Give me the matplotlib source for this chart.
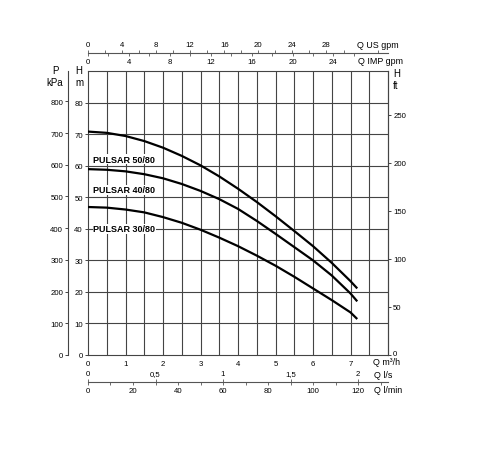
import numpy as np
import matplotlib
matplotlib.use("Agg")
import matplotlib.pyplot as plt
from matplotlib import font_manager as fm

# ---------------- data ----------------
q_m3h = [0, 0.5, 1, 1.5, 2, 2.5, 3, 3.5, 4, 4.5, 5, 5.5, 6, 6.5, 7, 7.18]
h_50_80 = [70.8, 70.4, 69.4, 67.8, 65.7, 63.1, 60.1, 56.6, 52.7, 48.5, 44.0, 39.3, 34.5, 29.2, 23.4, 21.1]
h_40_80 = [58.9, 58.7, 58.2, 57.3, 56.0, 54.2, 52.0, 49.4, 46.3, 42.5, 38.4, 34.2, 30.0, 25.2, 19.5, 17.0]
h_30_80 = [46.9, 46.7, 46.1, 45.2, 43.7, 41.9, 39.7, 37.2, 34.5, 31.5, 28.3, 24.8, 21.1, 17.4, 13.5, 11.4]
curve_names = ["PULSAR 50/80", "PULSAR 40/80", "PULSAR 30/80"]
label_h = [62.0, 52.3, 40.0]

x_ticks_m3h = [0, 1, 2, 3, 4, 5, 6, 7]
h_ticks_m = [0, 10, 20, 30, 40, 50, 60, 70, 80]
p_ticks_kpa = [0, 100, 200, 300, 400, 500, 600, 700, 800]
h_ticks_ft = [0, 50, 100, 150, 200, 250]
us_gpm_ticks = [0, 4, 8, 12, 16, 20, 24, 28]
imp_gpm_ticks = [0, 4, 8, 12, 16, 20, 24]
ls_ticks = [0, 0.5, 1, 1.5, 2]
ls_labels = ["0", "0,5", "1", "1,5", "2"]
lmin_ticks = [0, 20, 40, 60, 80, 100, 120]

# unit conversions
US_GPM = 0.2271247   # m3/h per US gpm
IMP_GPM = 0.272765   # m3/h per IMP gpm
KPA_PER_M = 9.95
FT = 0.3048

# ---------------- fonts ----------------
names = {f.name for f in fm.fontManager.ttflist}
base = "Liberation Sans" if "Liberation Sans" in names else "DejaVu Sans"
narrow = "Liberation Sans Narrow" if "Liberation Sans Narrow" in names else base
plt.rcParams["font.family"] = [base, "DejaVu Sans"]

W, H = 478, 460
fig = plt.figure(figsize=(W / 100, H / 100), dpi=100)

def fx(px):
    return px / W

def fy(py):
    return 1 - py / H

L, R, T, B = 88, 388, 72, 356
ax = fig.add_axes([fx(L), fy(B), fx(R - L), (B - T) / H])
xmax, hmax = 8.0, 90.0
ax.set_xlim(0, xmax)
ax.set_ylim(0, hmax)

gcol = "#444444"
glw = 0.8
tick_fs = 5.6
for v in np.arange(0.5, xmax, 0.5):
    ax.axvline(v, color=gcol, lw=glw, zorder=1)
for v in h_ticks_m[1:]:
    ax.axhline(v, color=gcol, lw=glw, zorder=1)
for s in ax.spines.values():
    s.set_color(gcol)
    s.set_linewidth(glw)

ax.set_xticks(x_ticks_m3h)
ax.set_xticklabels([str(v) for v in x_ticks_m3h])
ax.set_yticks(h_ticks_m)
ax.set_yticklabels([str(v) for v in h_ticks_m])
ax.tick_params(axis="x", length=0, pad=3.6, labelsize=tick_fs)
ax.tick_params(axis="y", length=2.5, width=0.7, pad=1.2, labelsize=tick_fs, color=gcol)

lab_size = 6.5 if narrow == base else 7
for hv, name, lh in zip([h_50_80, h_40_80, h_30_80], curve_names, label_h):
    ax.plot(q_m3h, hv, color="black", lw=1.6, zorder=3, solid_capstyle="butt",
            solid_joinstyle="round")
    ax.text(0.14, lh, name, fontsize=lab_size, fontweight="bold", family=[narrow, base],
            va="center", ha="left", zorder=4,
            bbox=dict(facecolor="white", edgecolor="none", pad=0.3))

# P kPa axis (left, offset)
axp = ax.twinx()
axp.set_ylim(0, hmax * KPA_PER_M)
axp.yaxis.set_ticks_position("left")
axp.yaxis.set_label_position("left")
axp.spines["left"].set_position(("axes", -(L - 67.7) / (R - L)))
axp.spines["left"].set_visible(True)
for k in ("right", "top", "bottom"):
    axp.spines[k].set_visible(False)
axp.spines["left"].set_color(gcol)
axp.spines["left"].set_linewidth(glw)
axp.set_yticks(p_ticks_kpa)
axp.set_yticklabels([str(v) for v in p_ticks_kpa])
axp.tick_params(axis="y", length=2.5, width=0.7, pad=0.8, labelsize=tick_fs, color=gcol)

# H ft axis (right)
axf = ax.twinx()
axf.set_ylim(0, hmax / FT)
for k in ("left", "top", "bottom"):
    axf.spines[k].set_visible(False)
axf.spines["right"].set_color(gcol)
axf.spines["right"].set_linewidth(glw)
axf.set_yticks(h_ticks_ft)
axf.set_yticklabels([str(v) for v in h_ticks_ft])
axf.tick_params(axis="y", length=2.5, width=0.7, pad=1.2, labelsize=tick_fs, color=gcol)
axf.get_yticklabels()[0].set_va("baseline")

# top gpm scale
topy = 54
scol = "#555555"
axu = fig.add_axes([fx(L), fy(topy), fx(R - L), 1e-6])
axu.set_xlim(0, xmax / US_GPM)
axu.set_yticks([])
for k in ("left", "right", "bottom"):
    axu.spines[k].set_visible(False)
axu.spines["top"].set_color(scol)
axu.spines["top"].set_linewidth(0.8)
axu.xaxis.set_ticks_position("top")
axu.set_xticks(us_gpm_ticks)
axu.set_xticklabels([str(v) for v in us_gpm_ticks])
axu.set_xticks(np.arange(2, 35, 4), minor=True)
axu.tick_params(axis="x", which="both", direction="out", length=2, width=0.6,
                pad=1.6, labelsize=tick_fs, color=scol)
sec = axu.secondary_xaxis("top", functions=(lambda x: x * US_GPM / IMP_GPM,
                                             lambda x: x * IMP_GPM / US_GPM))
sec.xaxis.set_ticks_position("bottom")
sec.spines["top"].set_visible(False)
sec.spines["bottom"].set_visible(False)
sec.set_xticks(imp_gpm_ticks)
sec.set_xticklabels([str(v) for v in imp_gpm_ticks])
sec.set_xticks(np.arange(2, 29, 4), minor=True)
sec.tick_params(axis="x", which="both", direction="out", length=2, width=0.6,
                pad=1.6, labelsize=tick_fs, color=scol)

# bottom l/s and l/min scale
boty = 383.3
axl = fig.add_axes([fx(L), fy(boty), fx(R - L), 1e-6])
axl.set_xlim(0, xmax / 3.6)
axl.set_yticks([])
for k in ("left", "right", "top"):
    axl.spines[k].set_visible(False)
axl.spines["bottom"].set_color(scol)
axl.spines["bottom"].set_linewidth(0.8)
axl.xaxis.set_ticks_position("top")
axl.set_xticks(ls_ticks)
axl.set_xticklabels(ls_labels)
axl.tick_params(axis="x", which="both", direction="out", length=2, width=0.6,
                pad=1.6, labelsize=tick_fs, color=scol)
sec2 = axl.secondary_xaxis("bottom", functions=(lambda x: x * 60, lambda x: x / 60))
sec2.spines["bottom"].set_visible(False)
sec2.set_xticks(lmin_ticks)
sec2.set_xticklabels([str(v) for v in lmin_ticks])
sec2.set_xticks(np.arange(10, 131, 20), minor=True)
sec2.tick_params(axis="x", which="both", direction="out", length=2, width=0.6,
                 pad=1.4, labelsize=tick_fs, color=scol)

# axis titles
lab_fs = 7
fig.text(fx(55), fy(70.7), "P", fontsize=lab_fs, ha="center", va="center")
fig.text(fx(55), fy(83.5), "kPa", fontsize=lab_fs, ha="center", va="center")
fig.text(fx(79), fy(70.7), "H", fontsize=lab_fs, ha="center", va="center")
fig.text(fx(79), fy(83.0), "m", fontsize=lab_fs, ha="center", va="center")
fig.text(fx(396.3), fy(74), "H", fontsize=lab_fs, ha="center", va="center")
fig.text(fx(395.5), fy(86), "ft", fontsize=lab_fs, ha="center", va="center")

q_fs = 6.4
fig.text(fx(357.3), fy(45.5), "Q US gpm", fontsize=q_fs, ha="left", va="center")
fig.text(fx(358.3), fy(62.0), "Q IMP gpm", fontsize=q_fs, ha="left", va="center")
fig.text(fx(373.3), fy(362.8), "Q m³/h", fontsize=q_fs, ha="left", va="center")
fig.text(fx(374.3), fy(376.0), "Q l/s", fontsize=q_fs, ha="left", va="center")
fig.text(fx(374.3), fy(391.0), "Q l/min", fontsize=q_fs, ha="left", va="center")

fig.savefig("out.png", dpi=100, facecolor="white")
